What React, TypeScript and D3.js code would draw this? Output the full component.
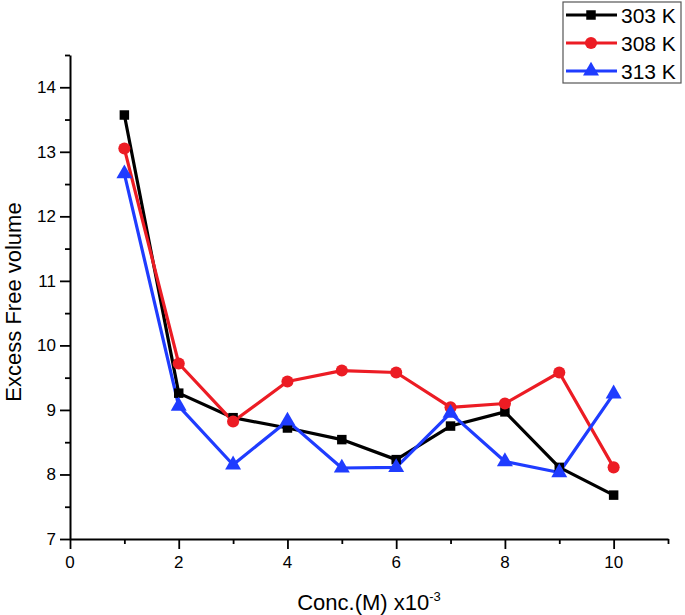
import React, { useEffect, useRef } from "react";
import * as d3 from "d3";

const concentrations = [1, 2, 3, 4, 5, 6, 7, 8, 9, 10];
const series303 = [13.57, 9.26, 8.88, 8.72, 8.54, 8.23, 8.75, 8.97, 8.11, 7.68];
const series308 = [13.05, 9.72, 8.82, 9.44, 9.61, 9.58, 9.04, 9.10, 9.58, 8.11];
const series313 = [12.66, 9.06, 8.15, 8.83, 8.10, 8.11, 8.95, 8.20, 8.03, 9.25];
const seriesNames = ["303 K", "308 K", "313 K"];
const seriesColors = ["#000000", "#ec1c24", "#1f3cff"];
const seriesMarkers = ["square", "circle", "triangle"];
const xTickLabels = [0, 2, 4, 6, 8, 10];
const yTickLabels = [7, 8, 9, 10, 11, 12, 13, 14];

const W = 685;
const H = 615;
const FONT = "'Liberation Sans', Arial, sans-serif";

export default function App() {
  const ref = useRef<SVGSVGElement | null>(null);

  useEffect(() => {
    const svg = d3.select(ref.current);
    svg.selectAll("*").remove();

    const x = d3.scaleLinear().domain([0, 11]).range([70, 668]);
    const y = d3.scaleLinear().domain([7, 14.5]).range([539, 55]);

    const g = svg.append("g");

    // X axis
    const xAxis = d3
      .axisBottom(x)
      .tickValues(d3.range(0, 12, 1))
      .tickSize(0)
      .tickFormat(() => "");
    const gx = g.append("g").attr("transform", `translate(0,${y(7)})`).call(xAxis);
    gx.select(".domain").attr("stroke", "#000").attr("stroke-width", 2);
    gx.selectAll(".tick line")
      .attr("stroke", "#000")
      .attr("stroke-width", 1.8)
      .attr("y2", (d: any) => (d % 2 === 0 ? 10 : 5));
    g.append("g")
      .selectAll("text")
      .data(xTickLabels)
      .join("text")
      .attr("x", (d) => x(d))
      .attr("y", 568)
      .attr("text-anchor", "middle")
      .attr("font-family", FONT)
      .attr("font-size", 17)
      .text((d) => String(d));

    // Y axis
    const yAxis = d3
      .axisLeft(y)
      .tickValues(d3.range(7, 14.51, 0.5))
      .tickSize(0)
      .tickFormat(() => "");
    const gy = g.append("g").attr("transform", `translate(${x(0)},0)`).call(yAxis);
    gy.select(".domain").attr("stroke", "#000").attr("stroke-width", 2);
    gy.selectAll(".tick line")
      .attr("stroke", "#000")
      .attr("stroke-width", 1.8)
      .attr("x2", (d: any) => (Number.isInteger(d) ? -10 : -5));
    g.append("g")
      .selectAll("text")
      .data(yTickLabels)
      .join("text")
      .attr("x", 56)
      .attr("y", (d) => y(d))
      .attr("dy", "0.35em")
      .attr("text-anchor", "end")
      .attr("font-family", FONT)
      .attr("font-size", 17)
      .text((d) => String(d));

    // Axis titles
    const xt = g
      .append("text")
      .attr("x", (x(0) + x(11)) / 2)
      .attr("y", 610)
      .attr("text-anchor", "middle")
      .attr("font-family", FONT)
      .attr("font-size", 22);
    xt.append("tspan").text("Conc.(M) x10");
    xt.append("tspan").attr("dy", -9).attr("font-size", 13).text("-3");

    g.append("text")
      .attr("transform", `translate(21,${(y(7) + y(14.5)) / 2 + 5}) rotate(-90)`)
      .attr("text-anchor", "middle")
      .attr("font-family", FONT)
      .attr("font-size", 22)
      .text("Excess Free volume");

    const allSeries = [series303, series308, series313];
    const symbolFor = (m: string) =>
      m === "square"
        ? d3.symbol().type(d3.symbolSquare).size(90)
        : m === "circle"
        ? d3.symbol().type(d3.symbolCircle).size(115)
        : d3.symbol().type(d3.symbolTriangle).size(110);

    const line = d3
      .line<number>()
      .x((_, i) => x(concentrations[i]))
      .y((d) => y(d));

    allSeries.forEach((vals, si) => {
      g.append("path")
        .datum(vals)
        .attr("d", line)
        .attr("fill", "none")
        .attr("stroke", seriesColors[si])
        .attr("stroke-width", 3.2)
        .attr("stroke-linejoin", "round");
    });
    allSeries.forEach((vals, si) => {
      g.append("g")
        .selectAll("path")
        .data(vals)
        .join("path")
        .attr("d", symbolFor(seriesMarkers[si]) as any)
        .attr("transform", (d, i) => `translate(${x(concentrations[i])},${y(d)})`)
        .attr("fill", seriesColors[si]);
    });

    // Legend
    const lg = g.append("g");
    lg.append("rect")
      .attr("x", 563)
      .attr("y", 2)
      .attr("width", 118)
      .attr("height", 81)
      .attr("fill", "#fff")
      .attr("stroke", "#555")
      .attr("stroke-width", 1.2);
    seriesNames.forEach((name, si) => {
      const cy = 15 + si * 28;
      lg.append("line")
        .attr("x1", 566)
        .attr("x2", 617)
        .attr("y1", cy)
        .attr("y2", cy)
        .attr("stroke", seriesColors[si])
        .attr("stroke-width", 3.2);
      lg.append("path")
        .attr("d", symbolFor(seriesMarkers[si]) as any)
        .attr("transform", `translate(591,${cy})`)
        .attr("fill", seriesColors[si]);
      lg.append("text")
        .attr("x", 621)
        .attr("y", cy)
        .attr("dy", "0.36em")
        .attr("font-family", FONT)
        .attr("font-size", 21)
        .text(name);
    });
  }, []);

  return (
    <svg
      ref={ref}
      width={W}
      height={H}
      style={{ position: "absolute", left: 0, top: 0, background: "#fff" }}
    />
  );
}
